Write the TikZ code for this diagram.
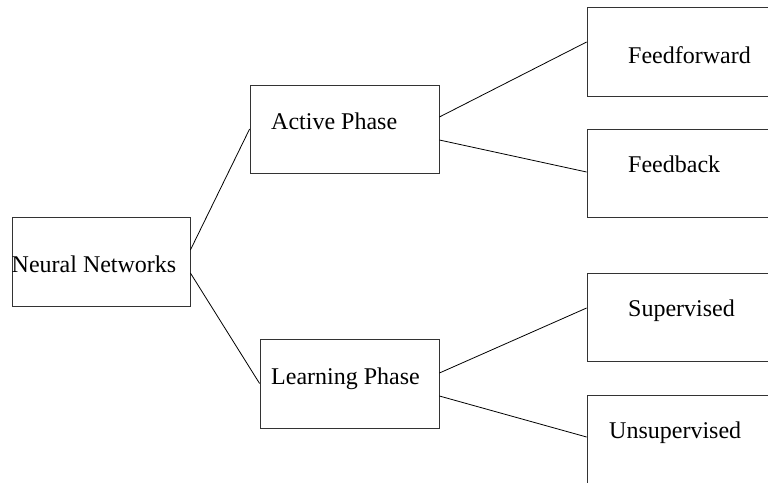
\documentclass[tikz,border=0pt]{standalone}
\usepackage{fontspec}
\setmainfont{Liberation Serif}
\begin{document}
\begin{tikzpicture}[x=1pt,y=-1pt,
  box/.style={draw=black!80,line width=0.8pt,rectangle,inner sep=0pt},
  lbl/.style={anchor=base west,inner sep=0pt,font=\fontsize{24}{28}\selectfont},
  link/.style={draw=black,line width=0.8pt}]
\useasboundingbox (0,0) rectangle (768,482);
\clip (0,0) rectangle (768,482);
% boxes
\node[box,minimum width=178pt,minimum height=89pt] (nn) at (101,261.5) {};
\node[box,minimum width=189pt,minimum height=88pt] (act) at (344.5,129) {};
\node[box,minimum width=179pt,minimum height=89pt] (lrn) at (349.5,383.5) {};
\node[box,minimum width=200pt,minimum height=89pt] (ff) at (687,51.5) {};
\node[box,minimum width=200pt,minimum height=88pt] (fb) at (687,173) {};
\node[box,minimum width=200pt,minimum height=88pt] (sup) at (687,317) {};
\node[box,minimum width=200pt,minimum height=89pt] (uns) at (687,439.5) {};
% labels
\node[lbl] (tnn) at (11.5,272.7) {Neural Networks};
\node[lbl] (tact) at (271,129.3) {Active Phase};
\node[lbl] (tlrn) at (271,384) {Learning Phase};
\node[lbl] (tff) at (628,63.3) {Feedforward};
\node[lbl] (tfb) at (628,172.3) {Feedback};
\node[lbl] (tsup) at (628,316.7) {Supervised};
\node[lbl] (tuns) at (609,438.3) {Unsupervised};
% connectors
\draw[link] ([yshift=11.5pt]nn.east) -- (act.west);
\draw[link] ([yshift=-11.5pt]nn.east) -- (lrn.west);
\draw[link] ([yshift=12pt]act.east) -- ([yshift=9.5pt]ff.west);
\draw[link] ([yshift=-11pt]act.east) -- ([yshift=1pt]fb.west);
\draw[link] ([yshift=10.5pt]lrn.east) -- ([yshift=9pt]sup.west);
\draw[link] ([yshift=-12.5pt]lrn.east) -- ([yshift=2.5pt]uns.west);
\end{tikzpicture}
\end{document}
